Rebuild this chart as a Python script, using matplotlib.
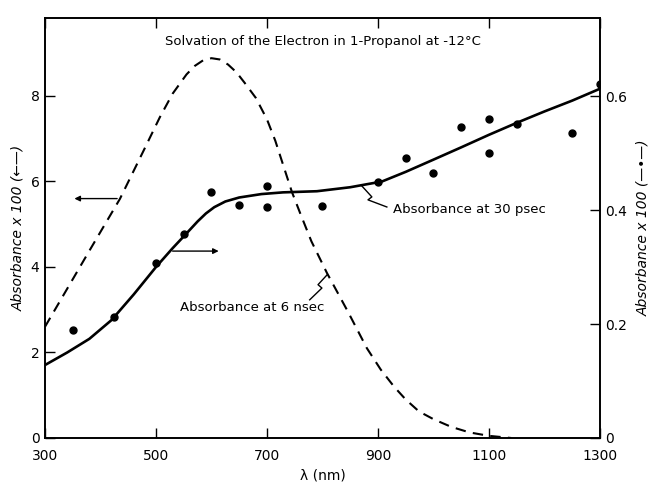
import matplotlib
matplotlib.use("Agg")
import matplotlib.pyplot as plt

# dashed curve, absorbance at 6 nsec (left axis)
wl_6ns = [300, 345, 381, 435, 477, 507, 530, 555, 570, 585, 600, 615, 630, 645, 660,
          680, 700, 715, 730, 745, 760, 780, 808, 846, 880, 905, 929, 950, 974, 1000,
          1032, 1065, 1100, 1140]
abs_6ns = [2.6, 3.6, 4.4, 5.59, 6.7, 7.5, 8.05, 8.5, 8.7, 8.83, 8.88, 8.85, 8.73, 8.55,
           8.3, 7.95, 7.45, 6.95, 6.35, 5.75, 5.25, 4.6, 3.86, 2.95, 2.1, 1.6, 1.2, 0.9,
           0.62, 0.44, 0.26, 0.13, 0.05, 0.0]

# solid curve, absorbance at 30 psec (right axis)
wl_30ps = [300, 340, 380, 420, 460, 500, 530, 556, 575, 590, 605, 625, 650, 690, 729,
           790, 850, 907, 950, 999, 1050, 1100, 1150, 1200, 1250, 1298]
abs_30ps = [0.128, 0.150, 0.174, 0.207, 0.252, 0.300, 0.333, 0.360, 0.380, 0.394,
            0.405, 0.415, 0.422, 0.428, 0.431, 0.433, 0.440, 0.450, 0.467, 0.488,
            0.510, 0.532, 0.553, 0.573, 0.592, 0.612]

# measured points (right axis)
pts_wl = [350, 425, 500, 550, 600, 650, 700, 700, 800, 900, 950, 1000, 1050,
          1100, 1100, 1150, 1250, 1300]
pts_abs = [0.189, 0.212, 0.307, 0.358, 0.432, 0.409, 0.442, 0.405, 0.407, 0.449,
           0.491, 0.465, 0.546, 0.560, 0.500, 0.551, 0.535, 0.621]

xticks = [300, 500, 700, 900, 1100, 1300]
left_ticks = [0, 2, 4, 6, 8]
right_ticks = [0, 0.2, 0.4, 0.6]
right_labels = ["0", "0.2", "0.4", "0.6"]

plt.rcParams["font.family"] = "DejaVu Sans"

fig = plt.figure(figsize=(6.5, 4.82), dpi=100)
ax = fig.add_axes([0.0692, 0.0913, 0.8538, 0.8714])
ax2 = ax.twinx()

ax.plot(wl_6ns, abs_6ns, color="black", lw=1.5, ls=(0, (5, 3.5)))
ax2.plot(wl_30ps, abs_30ps, color="black", lw=1.9)
ax2.plot(pts_wl, pts_abs, "o", color="black", ms=5)

ax.set_xlim(300, 1300)
ax.set_ylim(0, 9.82)
ax2.set_ylim(0, 0.737)

ax.set_xticks(xticks)
ax.set_xticklabels([str(t) for t in xticks])
ax.set_yticks(left_ticks)
ax2.set_yticks(right_ticks)
ax2.set_yticklabels(right_labels)

ax.tick_params(axis="x", direction="in", length=7, width=1, labelsize=10, top=True, pad=8)
ax.tick_params(axis="y", direction="in", length=7, width=1, labelsize=10, pad=4)
ax2.tick_params(direction="in", length=7, width=1, labelsize=10, pad=4)
for a in (ax, ax2):
    for s in a.spines.values():
        s.set_linewidth(1.2)

ax.set_xlabel("λ (nm)", fontsize=10, labelpad=4)
ax.set_ylabel("Absorbance x 100 (←—)", fontsize=10, style="italic", labelpad=4)
ax2.set_ylabel("Absorbance x 100 (—•—)", fontsize=10, style="italic", labelpad=6)

ax.text(0.5, 0.943, "Solvation of the Electron in 1-Propanol at -12°C",
        transform=ax.transAxes, ha="center", va="center", fontsize=9.5)

# arrows pointing to the axis each curve belongs to
ax.annotate("", xy=(0.048, 0.570), xytext=(0.135, 0.570), xycoords="axes fraction",
            arrowprops=dict(arrowstyle="-|>", color="black", lw=1, mutation_scale=8))
ax.annotate("", xy=(0.318, 0.445), xytext=(0.225, 0.445), xycoords="axes fraction",
            arrowprops=dict(arrowstyle="-|>", color="black", lw=1, mutation_scale=8))

# labels with squiggle leaders
ax.text(0.627, 0.543, "Absorbance at 30 psec", transform=ax.transAxes,
        ha="left", va="center", fontsize=9.5)
ax.plot([0.571, 0.589, 0.582, 0.616], [0.600, 0.574, 0.567, 0.550],
        color="black", lw=1, transform=ax.transAxes)
ax.text(0.243, 0.310, "Absorbance at 6 nsec", transform=ax.transAxes,
        ha="left", va="center", fontsize=9.5)
ax.plot([0.508, 0.492, 0.499, 0.477], [0.388, 0.365, 0.357, 0.329],
        color="black", lw=1, transform=ax.transAxes)

fig.savefig("out.png", dpi=100)
